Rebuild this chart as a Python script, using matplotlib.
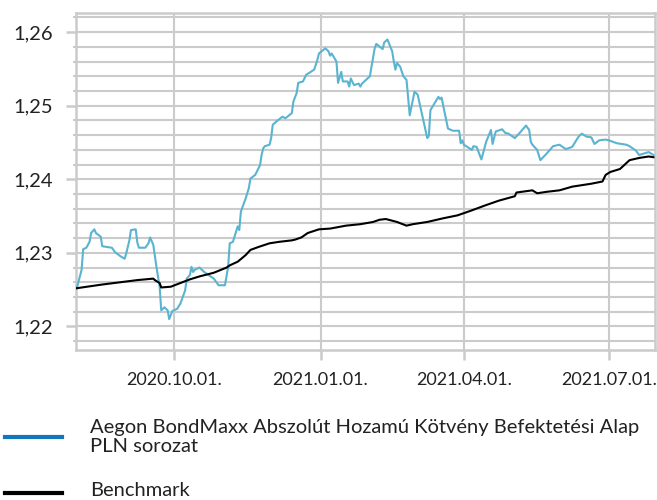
import pandas as pd
import matplotlib
matplotlib.use('Agg')
import matplotlib.pyplot as plt
import matplotlib.dates as mdates
from matplotlib.lines import Line2D
from matplotlib.ticker import MultipleLocator, FuncFormatter

plt.rcParams['font.family'] = ['Lato', 'DejaVu Sans']

# fund series
fund_dates = [
    "2020-08-01", "2020-08-04", "2020-08-05", "2020-08-07", "2020-08-09", "2020-08-10", "2020-08-12", "2020-08-13", "2020-08-16", "2020-08-17",
    "2020-08-23", "2020-08-25", "2020-08-28", "2020-08-31", "2020-09-01", "2020-09-03", "2020-09-04", "2020-09-07", "2020-09-08", "2020-09-09",
    "2020-09-13", "2020-09-15", "2020-09-16", "2020-09-18", "2020-09-20", "2020-09-22", "2020-09-23", "2020-09-25", "2020-09-27", "2020-09-28",
    "2020-09-30", "2020-10-03", "2020-10-05", "2020-10-08", "2020-10-09", "2020-10-11", "2020-10-12", "2020-10-13", "2020-10-14", "2020-10-17",
    "2020-10-20", "2020-10-26", "2020-10-29", "2020-11-02", "2020-11-04", "2020-11-05", "2020-11-07", "2020-11-10", "2020-11-11", "2020-11-12",
    "2020-11-15", "2020-11-17", "2020-11-18", "2020-11-21", "2020-11-24", "2020-11-25", "2020-11-26", "2020-11-27", "2020-11-30", "2020-12-01",
    "2020-12-02", "2020-12-04", "2020-12-08", "2020-12-10", "2020-12-14", "2020-12-15", "2020-12-17", "2020-12-18", "2020-12-21", "2020-12-23",
    "2020-12-28", "2020-12-30", "2020-12-31", "2021-01-04", "2021-01-06", "2021-01-07", "2021-01-08", "2021-01-11", "2021-01-12", "2021-01-14",
    "2021-01-15", "2021-01-18", "2021-01-19", "2021-01-20", "2021-01-22", "2021-01-25", "2021-01-26", "2021-01-27", "2021-02-01", "2021-02-02",
    "2021-02-04", "2021-02-05", "2021-02-09", "2021-02-10", "2021-02-12", "2021-02-15", "2021-02-16", "2021-02-17", "2021-02-18", "2021-02-20",
    "2021-02-22", "2021-02-24", "2021-02-26", "2021-03-01", "2021-03-03", "2021-03-09", "2021-03-10", "2021-03-11", "2021-03-16", "2021-03-17",
    "2021-03-18", "2021-03-22", "2021-03-25", "2021-03-29", "2021-03-30", "2021-03-31", "2021-04-01", "2021-04-06", "2021-04-07", "2021-04-09",
    "2021-04-12", "2021-04-15", "2021-04-18", "2021-04-19", "2021-04-21", "2021-04-25", "2021-04-27", "2021-04-29", "2021-05-03", "2021-05-06",
    "2021-05-10", "2021-05-12", "2021-05-13", "2021-05-14", "2021-05-17", "2021-05-19", "2021-05-23", "2021-05-27", "2021-05-31", "2021-06-04",
    "2021-06-08", "2021-06-12", "2021-06-14", "2021-06-17", "2021-06-20", "2021-06-22", "2021-06-25", "2021-06-29", "2021-07-01", "2021-07-06",
    "2021-07-09", "2021-07-12", "2021-07-14", "2021-07-18", "2021-07-20", "2021-07-23", "2021-07-26", "2021-07-29",
]
fund_values = [
    1.2252, 1.2277, 1.2305, 1.2307, 1.2315, 1.2327, 1.2332, 1.2327, 1.2322, 1.2309,
    1.2307, 1.2301, 1.2296, 1.2292, 1.2299, 1.2317, 1.2331, 1.2332, 1.2314, 1.2307,
    1.2307, 1.2313, 1.2321, 1.2311, 1.2281, 1.2254, 1.2222, 1.2226, 1.2222, 1.2210,
    1.2221, 1.2224, 1.2231, 1.2249, 1.2265, 1.2270, 1.2281, 1.2274, 1.2277, 1.2280,
    1.2274, 1.2265, 1.2256, 1.2256, 1.2281, 1.2313, 1.2315, 1.2336, 1.2331, 1.2356,
    1.2374, 1.2388, 1.2401, 1.2406, 1.2419, 1.2433, 1.2442, 1.2445, 1.2447, 1.2456,
    1.2474, 1.2478, 1.2485, 1.2483, 1.2490, 1.2506, 1.2517, 1.2531, 1.2533, 1.2542,
    1.2549, 1.2562, 1.2571, 1.2578, 1.2574, 1.2568, 1.2571, 1.2560, 1.2531, 1.2546,
    1.2533, 1.2533, 1.2526, 1.2537, 1.2528, 1.2530, 1.2526, 1.2530, 1.2540, 1.2553,
    1.2578, 1.2584, 1.2577, 1.2586, 1.2590, 1.2574, 1.2560, 1.2549, 1.2558, 1.2553,
    1.2540, 1.2535, 1.2487, 1.2519, 1.2515, 1.2456, 1.2459, 1.2494, 1.2512, 1.2509,
    1.2511, 1.2469, 1.2466, 1.2466, 1.2449, 1.2453, 1.2447, 1.2440, 1.2445, 1.2444,
    1.2427, 1.2451, 1.2467, 1.2448, 1.2465, 1.2468, 1.2463, 1.2462, 1.2456, 1.2463,
    1.2473, 1.2467, 1.2451, 1.2447, 1.2440, 1.2426, 1.2435, 1.2445, 1.2447, 1.2441,
    1.2444, 1.2458, 1.2462, 1.2458, 1.2457, 1.2448, 1.2453, 1.2454, 1.2453, 1.2449,
    1.2448, 1.2447, 1.2445, 1.2439, 1.2433, 1.2435, 1.2437, 1.2433,
]

# benchmark series
bench_dates = [
    "2020-08-01", "2020-08-17", "2020-09-08", "2020-09-18", "2020-09-19", "2020-09-22", "2020-09-23", "2020-09-29", "2020-10-05", "2020-10-11",
    "2020-10-17", "2020-10-26", "2020-11-03", "2020-11-05", "2020-11-10", "2020-11-15", "2020-11-18", "2020-11-23", "2020-11-30", "2020-12-06",
    "2020-12-14", "2020-12-16", "2020-12-20", "2020-12-24", "2020-12-31", "2021-01-07", "2021-01-17", "2021-01-26", "2021-02-03", "2021-02-07",
    "2021-02-11", "2021-02-18", "2021-02-24", "2021-02-28", "2021-03-09", "2021-03-19", "2021-03-28", "2021-04-05", "2021-04-15", "2021-04-23",
    "2021-05-03", "2021-05-04", "2021-05-14", "2021-05-17", "2021-05-23", "2021-05-31", "2021-06-08", "2021-06-14", "2021-06-20", "2021-06-27",
    "2021-06-29", "2021-07-02", "2021-07-08", "2021-07-12", "2021-07-14", "2021-07-20", "2021-07-26", "2021-07-29",
]
bench_values = [
    1.2252, 1.2257, 1.2263, 1.2265, 1.2263, 1.2259, 1.2253, 1.2254, 1.2259, 1.2264,
    1.2268, 1.2273, 1.2280, 1.2283, 1.2288, 1.2297, 1.2304, 1.2308, 1.2313, 1.2315,
    1.2317, 1.2318, 1.2321, 1.2327, 1.2332, 1.2333, 1.2337, 1.2339, 1.2342, 1.2345,
    1.2346, 1.2342, 1.2337, 1.2339, 1.2342, 1.2347, 1.2351, 1.2357, 1.2365, 1.2371,
    1.2377, 1.2382, 1.2385, 1.2381, 1.2383, 1.2385, 1.2390, 1.2392, 1.2394, 1.2397,
    1.2406, 1.2410, 1.2414, 1.2422, 1.2426, 1.2429, 1.2431, 1.2430,
]

fund_label = "Aegon BondMaxx Abszolút Hozamú Kötvény Befektetési Alap\nPLN sorozat"
bench_label = "Benchmark"

fund_color = '#5ab4d0'
legend_blue = '#1276bd'
grid_color = '#cbcbcb'
text_color = '#222222'

fig = plt.figure(figsize=(6.57, 5.0), dpi=100)
ax = fig.add_axes([0.1157, 0.30, 0.8813, 0.674])

ax.plot(pd.to_datetime(fund_dates), fund_values, color=fund_color, lw=1.5, zorder=3)
ax.plot(pd.to_datetime(bench_dates), bench_values, color='black', lw=1.5, zorder=4)

ax.set_xlim(pd.Timestamp("2020-07-31 12:00"), pd.Timestamp("2021-07-30"))
ax.set_ylim(1.2168, 1.2626)

ax.xaxis.set_major_locator(mdates.MonthLocator(bymonth=[1, 4, 7, 10]))
ax.xaxis.set_major_formatter(mdates.DateFormatter('%Y.%m.%d.'))
ax.yaxis.set_major_locator(MultipleLocator(0.01))
ax.yaxis.set_minor_locator(MultipleLocator(0.002))
ax.yaxis.set_major_formatter(FuncFormatter(lambda v, p: f"{v:.2f}".replace('.', ',')))

ax.grid(True, which='both', axis='y', color=grid_color, lw=1.5, zorder=1)
ax.grid(True, which='major', axis='x', color=grid_color, lw=1.5, zorder=1)
ax.set_axisbelow(True)

for s in ax.spines.values():
    s.set_color(grid_color)
    s.set_linewidth(1.8)

ax.tick_params(axis='both', which='major', length=7.5, width=1.8, color=grid_color,
               labelcolor=text_color)
ax.tick_params(axis='x', which='major', pad=8, labelsize=13)
ax.tick_params(axis='y', which='major', pad=9, labelsize=14.5)
ax.tick_params(axis='y', which='minor', length=2.5, width=1.5, color=grid_color)

# legend below the chart
fig.add_artist(Line2D([0.008, 0.094], [0.126, 0.126], color=legend_blue, lw=3, transform=fig.transFigure))
fig.add_artist(Line2D([0.008, 0.094], [0.014, 0.014], color='black', lw=3, transform=fig.transFigure))
fig.text(0.137, 0.126, fund_label, fontsize=14.5, color=text_color, va='center', ha='left', linespacing=1.2)
fig.text(0.137, 0.018, bench_label, fontsize=14.5, color=text_color, va='center', ha='left')

fig.savefig('out.png', dpi=100)
